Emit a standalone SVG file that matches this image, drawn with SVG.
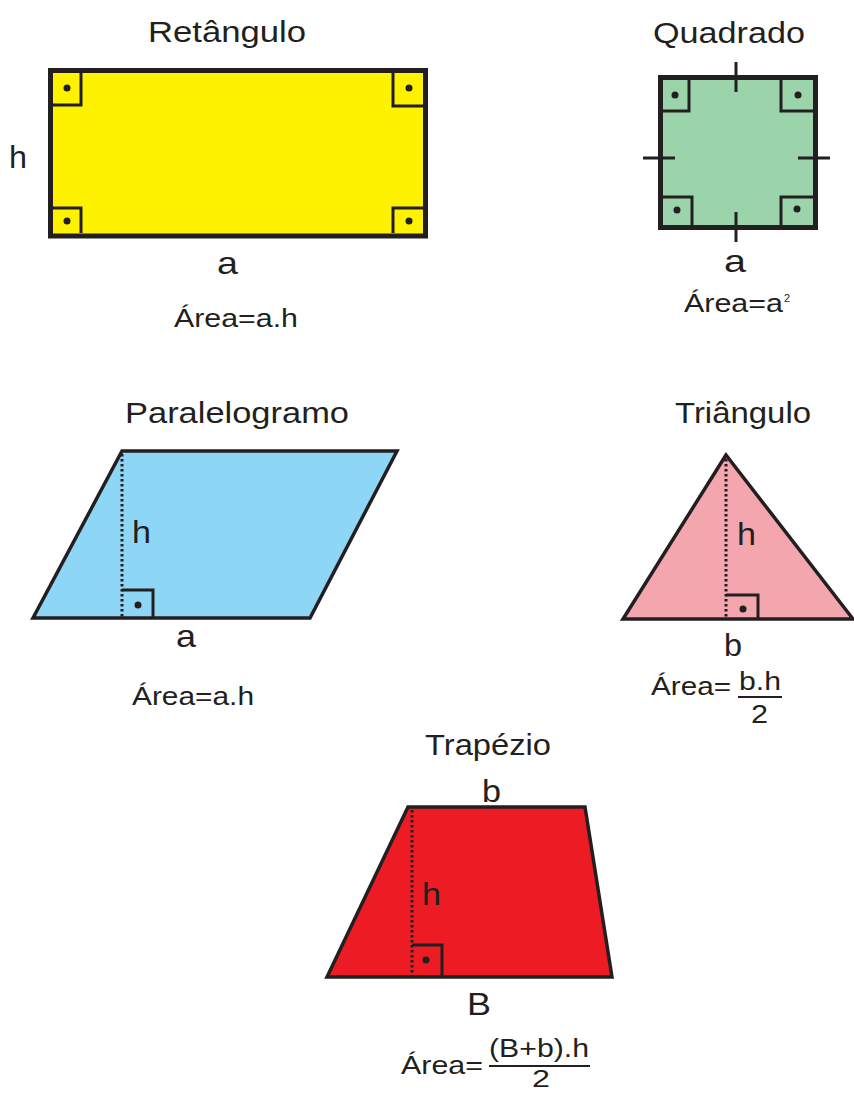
<svg xmlns="http://www.w3.org/2000/svg" width="854" height="1093" viewBox="0 0 854 1093">
<style>
text{font-family:"Liberation Sans",Arial,sans-serif;fill:#231f20}
.t{font-size:29px}
.l{font-size:32px}
.f{font-size:25px}
.sup{font-size:11px}
.edge{stroke:#231f20;stroke-linejoin:miter}
.ra{fill:none;stroke:#231f20;stroke-width:3}
.dot{fill:#231f20}
.ht{fill:none;stroke:#231f20;stroke-width:3;stroke-dasharray:2.6 2.4}
.tick{stroke:#231f20;stroke-width:3}
.bar{stroke:#231f20;stroke-width:1.8}
</style>
<rect width="854" height="1093" fill="#ffffff"/>

<g id="retangulo">
<text class="t" x="148" y="42" textLength="158" lengthAdjust="spacingAndGlyphs">Retângulo</text>
<rect class="edge" x="50.5" y="70.5" width="375" height="165.5" fill="#fff200" stroke-width="5"/>
<path class="ra" d="M53,105 H81 V73 M423,106 H393 V73 M53,208 H81 V233 M423,208 H393 V233"/>
<circle class="dot" cx="67" cy="88" r="3.5"/>
<circle class="dot" cx="409" cy="88" r="3.5"/>
<circle class="dot" cx="67" cy="221" r="3.5"/>
<circle class="dot" cx="409" cy="221" r="3.5"/>
<text class="l" x="9" y="168" textLength="18" lengthAdjust="spacingAndGlyphs">h</text>
<text class="l" x="217" y="274" textLength="21" lengthAdjust="spacingAndGlyphs">a</text>
<text class="f" x="174" y="327" textLength="124" lengthAdjust="spacingAndGlyphs">Área=a.h</text>
</g>

<g id="quadrado">
<text class="t" x="653" y="43" textLength="152" lengthAdjust="spacingAndGlyphs">Quadrado</text>
<rect class="edge" x="660.5" y="77.5" width="155" height="150" fill="#9bd4ab" stroke-width="5"/>
<path class="ra" d="M663,111 H689 V80 M813,111 H781 V80 M663,197 H692 V225 M813,197 H781 V225"/>
<circle class="dot" cx="675" cy="95" r="3.5"/>
<circle class="dot" cx="798" cy="95" r="3.5"/>
<circle class="dot" cx="677" cy="210" r="3.5"/>
<circle class="dot" cx="797" cy="209" r="3.5"/>
<path class="tick" d="M736,62 V92 M736,212 V242 M643,158 H675 M798,158 H830"/>
<text class="l" x="724" y="272" textLength="22" lengthAdjust="spacingAndGlyphs">a</text>
<text class="f" x="684" y="312" textLength="99" lengthAdjust="spacingAndGlyphs">Área=a</text>
<text class="sup" x="784" y="302">2</text>
</g>

<g id="paralelogramo">
<text class="t" x="125" y="423" textLength="224" lengthAdjust="spacingAndGlyphs">Paralelogramo</text>
<polygon class="edge" points="122,451 397,451 310,618 33,618" fill="#8ed6f6" stroke-width="3.5"/>
<line class="ht" x1="122" y1="454" x2="122" y2="617"/>
<path class="ra" d="M122,590 H153 V618"/>
<circle class="dot" cx="138" cy="605" r="3.5"/>
<text class="l" x="132" y="543" textLength="19" lengthAdjust="spacingAndGlyphs">h</text>
<text class="l" x="176" y="647" textLength="20" lengthAdjust="spacingAndGlyphs">a</text>
<text class="f" x="132" y="705" textLength="122" lengthAdjust="spacingAndGlyphs">Área=a.h</text>
</g>

<g id="triangulo">
<text class="t" x="675" y="423" textLength="136" lengthAdjust="spacingAndGlyphs">Triângulo</text>
<polygon class="edge" points="726,455 623,619 853,619" fill="#f4a6ae" stroke-width="3.5"/>
<line class="ht" x1="726" y1="459" x2="726" y2="618"/>
<path class="ra" d="M726,595 H758 V619"/>
<circle class="dot" cx="743" cy="609" r="3.5"/>
<text class="l" x="737" y="545" textLength="19" lengthAdjust="spacingAndGlyphs">h</text>
<text class="l" x="724" y="656" textLength="18" lengthAdjust="spacingAndGlyphs">b</text>
<text class="f" x="651" y="695" textLength="80" lengthAdjust="spacingAndGlyphs">Área=</text>
<text class="f" x="739" y="690" textLength="42" lengthAdjust="spacingAndGlyphs">b.h</text>
<line class="bar" x1="738" y1="697" x2="782" y2="697"/>
<text class="f" x="751" y="723" textLength="17" lengthAdjust="spacingAndGlyphs">2</text>
</g>

<g id="trapezio">
<text class="t" x="425" y="755" textLength="126" lengthAdjust="spacingAndGlyphs">Trapézio</text>
<polygon class="edge" points="408,807 585,807 612,977 327,977" fill="#ed1c24" stroke-width="3.5"/>
<line class="ht" x1="412" y1="810" x2="412" y2="976"/>
<path class="ra" d="M412,945 H442 V977"/>
<circle class="dot" cx="426" cy="960" r="3.5"/>
<text class="l" x="482" y="802" textLength="19" lengthAdjust="spacingAndGlyphs">b</text>
<text class="l" x="422" y="905" textLength="19" lengthAdjust="spacingAndGlyphs">h</text>
<text class="l" x="467" y="1015" textLength="24" lengthAdjust="spacingAndGlyphs">B</text>
<text class="f" x="401" y="1074" textLength="82" lengthAdjust="spacingAndGlyphs">Área=</text>
<text class="f" x="489" y="1057" textLength="100" lengthAdjust="spacingAndGlyphs">(B+b).h</text>
<line class="bar" x1="489" y1="1066" x2="590" y2="1066"/>
<text x="532" y="1087" font-size="23" textLength="18" lengthAdjust="spacingAndGlyphs">2</text>
</g>
</svg>
